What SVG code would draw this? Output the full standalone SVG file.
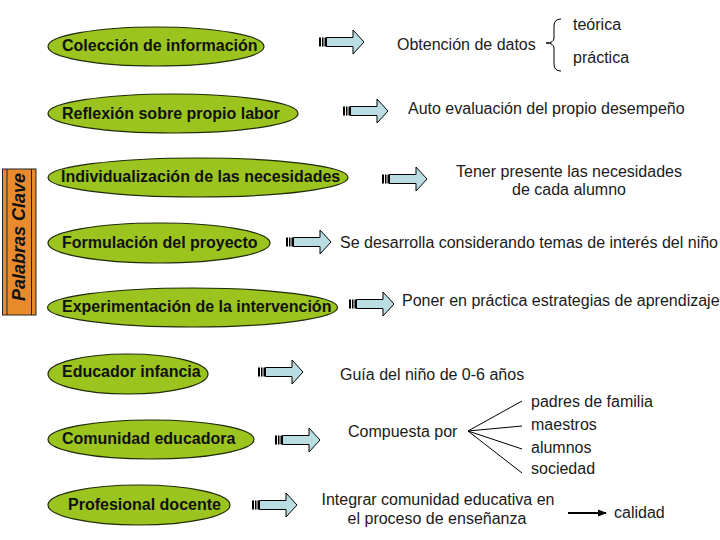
<svg xmlns="http://www.w3.org/2000/svg" width="720" height="540" viewBox="0 0 720 540">
<style>
.node ellipse{fill:#9BC41E;stroke:#1E2A08;stroke-width:1.2}
.nt{font-family:"Liberation Sans",Arial,sans-serif;font-size:16px;font-weight:bold;fill:#111}
.t{font-family:"Liberation Sans",Arial,sans-serif;font-size:16px;fill:#1a1a1a}
.arr{fill:#BADDE3;stroke:#000;stroke-width:1}
.bar{fill:#000}
.ln{stroke:#000;stroke-width:1;fill:none}
</style>
<defs>
<g id="barrow">
<rect class="bar" x="0" y="-4.5" width="2" height="9"/>
<rect class="bar" x="3" y="-4.5" width="1.5" height="9"/>
<rect class="bar" x="5.5" y="-4.5" width="2" height="9"/>
<path class="arr" d="M7.5,-4.5 H34 V-12 L45,0 L34,12 V4.5 H7.5 Z"/>
</g>
<marker id="ah" viewBox="0 0 10 10" refX="9" refY="5" markerWidth="9" markerHeight="9" orient="auto" markerUnits="userSpaceOnUse">
<path d="M0,1 L10,5 L0,9 Z" fill="#000"/>
</marker>
</defs>
<rect width="720" height="540" fill="#fff"/>

<g id="palabras-clave">
<rect x="2.5" y="169" width="33.5" height="146" fill="#E98B2C" stroke="#222" stroke-width="1"/>
<line x1="7" y1="169" x2="7" y2="315" stroke="#222" stroke-width="1"/>
<line x1="31.5" y1="169" x2="31.5" y2="315" stroke="#222" stroke-width="1"/>
<text transform="translate(25,237) rotate(-90)" text-anchor="middle" font-family="Liberation Sans, Arial, sans-serif" font-size="18" font-weight="bold" font-style="italic" fill="#111">Palabras Clave</text>
</g>

<g id="n-coleccion" class="node"><ellipse cx="156" cy="46.5" rx="108" ry="19.5"/><text class="nt" x="62" y="51">Colección de información</text></g>
<g id="n-reflexion" class="node"><ellipse cx="173" cy="113.5" rx="125" ry="19.5"/><text class="nt" x="62" y="119">Reflexión sobre propio labor</text></g>
<g id="n-individualizacion" class="node"><ellipse cx="198" cy="177.5" rx="150" ry="19.5"/><text class="nt" x="61" y="182">Individualización de las necesidades</text></g>
<g id="n-formulacion" class="node"><ellipse cx="159" cy="243" rx="111" ry="20"/><text class="nt" x="62" y="248">Formulación del proyecto</text></g>
<g id="n-experimentacion" class="node"><ellipse cx="192.5" cy="307.5" rx="145" ry="19.5"/><text class="nt" x="62" y="312">Experimentación de la intervención</text></g>
<g id="n-educador" class="node"><ellipse cx="128" cy="374" rx="80" ry="20"/><text class="nt" x="62" y="377">Educador infancia</text></g>
<g id="n-comunidad" class="node"><ellipse cx="151" cy="439.5" rx="103" ry="19.5"/><text class="nt" x="62" y="444">Comunidad educadora</text></g>
<g id="n-profesional" class="node"><ellipse cx="139" cy="505" rx="91" ry="20"/><text class="nt" x="68" y="510">Profesional docente</text></g>

<g id="connectors">
<use href="#barrow" x="319" y="42"/>
<use href="#barrow" x="343" y="111"/>
<use href="#barrow" x="382" y="179"/>
<use href="#barrow" x="286" y="242"/>
<use href="#barrow" x="349" y="304"/>
<use href="#barrow" x="258" y="372"/>
<use href="#barrow" x="275" y="440"/>
<use href="#barrow" x="252" y="505"/>
<path class="ln" d="M561,19 Q554,19 554,26 L554,38 Q554,43 546,43 Q554,43 554,48 L554,64 Q554,71 561,71"/>
<line class="ln" x1="468" y1="431" x2="522" y2="401"/>
<line class="ln" x1="468" y1="431" x2="522" y2="426"/>
<line class="ln" x1="468" y1="431" x2="522" y2="449"/>
<line class="ln" x1="468" y1="431" x2="522" y2="473"/>
<line x1="568" y1="513" x2="606" y2="513" stroke="#000" stroke-width="2" marker-end="url(#ah)"/>
</g>

<g id="texts">
<text class="t" x="397" y="50">Obtención de datos</text>
<text class="t" x="573" y="30">teórica</text>
<text class="t" x="573" y="63">práctica</text>
<text class="t" x="408" y="114">Auto evaluación del propio desempeño</text>
<text class="t" x="569" y="177" text-anchor="middle">Tener presente las necesidades</text>
<text class="t" x="569" y="195" text-anchor="middle">de cada alumno</text>
<text class="t" x="340" y="248">Se desarrolla considerando temas de interés del niño</text>
<text class="t" x="402" y="306">Poner en práctica estrategias de aprendizaje</text>
<text class="t" x="340" y="380">Guía del niño de 0-6 años</text>
<text class="t" x="348" y="437">Compuesta por</text>
<text class="t" x="531" y="407">padres de familia</text>
<text class="t" x="531" y="430">maestros</text>
<text class="t" x="531" y="453">alumnos</text>
<text class="t" x="531" y="474">sociedad</text>
<text class="t" x="438" y="505" text-anchor="middle">Integrar comunidad educativa en</text>
<text class="t" x="437" y="524" text-anchor="middle">el proceso de enseñanza</text>
<text class="t" x="614" y="518">calidad</text>
</g>
</svg>
